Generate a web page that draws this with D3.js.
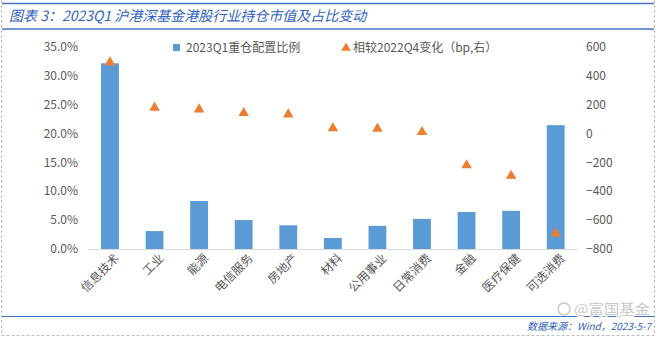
<!DOCTYPE html>
<html><head><meta charset="utf-8">
<script src="https://cdn.jsdelivr.net/npm/d3@7"></script>
<style>html,body{margin:0;padding:0;background:#fff;}svg{display:block;font-family:"Microsoft YaHei","Noto Sans CJK SC",sans-serif;}</style>
</head><body>
<svg id="c" width="670" height="344"></svg>
<script>
const categories = ["信息技术","工业","能源","电信服务","房地产","材料","公用事业","日常消费","金融","医疗保健","可选消费"];
const weights = [32.1, 3.1, 8.3, 5.0, 4.1, 1.9, 4.0, 5.2, 6.4, 6.6, 21.4];
const changes = [490, 177, 165, 140, 131, 35, 32, 9, -221, -294, -692];
const leftTicks = [0,5,10,15,20,25,30,35];
const rightTicks = [-800,-600,-400,-200,0,200,400,600];
const seriesNames = ["2023Q1重仓配置比例","相较2022Q4变化（bp,右）"];

const svg = d3.select("#c");
const font = "'Microsoft YaHei','Noto Sans CJK SC',sans-serif";
const blue = "#2f63c0";

// frame
svg.append("line").attr("x1",1.5).attr("x2",1.5).attr("y1",0).attr("y2",335).attr("stroke","#bfbfbf").attr("stroke-dasharray","3,2");
svg.append("line").attr("x1",654.5).attr("x2",654.5).attr("y1",0).attr("y2",335).attr("stroke","#bfbfbf").attr("stroke-dasharray","3,2");
svg.append("line").attr("x1",1.5).attr("x2",654.5).attr("y1",335.5).attr("y2",335.5).attr("stroke","#bfbfbf").attr("stroke-dasharray","3,2");
svg.append("line").attr("x1",2).attr("x2",654).attr("y1",3.5).attr("y2",3.5).attr("stroke","#4472c4").attr("stroke-width",1.5);
svg.append("line").attr("x1",2).attr("x2",654).attr("y1",29).attr("y2",29).attr("stroke","#4472c4").attr("stroke-width",1.5);
svg.append("line").attr("x1",2).attr("x2",654).attr("y1",316.5).attr("y2",316.5).attr("stroke","#4472c4").attr("stroke-width",1.2);

svg.append("text").attr("x",9).attr("y",21).attr("font-size",14).attr("font-style","italic")
  .attr("fill",blue).attr("font-family",font).text("图表 3：2023Q1 沪港深基金港股行业持仓市值及占比变动");

const x = d3.scaleBand().domain(categories).range([87.7,578]).paddingInner(0.6).paddingOuter(0.3);
const yL = d3.scaleLinear().domain([0,35]).range([249,46.5]);
const yR = d3.scaleLinear().domain([-800,600]).range([249,46.5]);

// left axis
const axL = svg.append("g").attr("transform","translate(80,0)")
  .call(d3.axisLeft(yL).tickValues(leftTicks).tickSize(0).tickPadding(0).tickFormat(d=>d.toFixed(1)+"%"));
axL.select(".domain").remove();
axL.selectAll("text").attr("font-size",12).attr("fill","#595959").attr("font-family",font).attr("dx",-2);

const axR = svg.append("g").attr("transform","translate(584,0)")
  .call(d3.axisRight(yR).tickValues(rightTicks).tickSize(0).tickPadding(0).tickFormat(d3.format("d")));
axR.select(".domain").remove();
axR.selectAll("text").attr("font-size",12).attr("fill","#595959").attr("font-family",font).attr("dx",2);

// bars
svg.append("g").selectAll("rect").data(categories).join("rect")
  .attr("x",d=>x(d)).attr("width",x.bandwidth())
  .attr("y",(d,i)=>yL(weights[i])).attr("height",(d,i)=>yL(0)-yL(weights[i]))
  .attr("fill","#5b9bd5");

// baseline
svg.append("line").attr("x1",87.7).attr("x2",578).attr("y1",249.5).attr("y2",249.5).attr("stroke","#d9d9d9").attr("stroke-width",1);

// triangles
const tri = d3.symbol().type(d3.symbolTriangle).size(48);
svg.append("g").selectAll("path").data(categories).join("path")
  .attr("d",tri)
  .attr("transform",(d,i)=>`translate(${x(d)+x.bandwidth()/2},${yR(changes[i])})`)
  .attr("fill","#ed7d31");

// x labels
const axB = svg.append("g").attr("transform","translate(0,250)")
  .call(d3.axisBottom(x).tickSize(0).tickPadding(0));
axB.select(".domain").remove();
axB.selectAll("text").attr("font-size",12).attr("fill","#595959").attr("font-family",font)
  .attr("text-anchor","end").attr("dy",0)
  .attr("transform","translate(10,9) rotate(-45)");

// legend
const lg = svg.append("g").attr("font-family",font).attr("font-size",12).attr("fill","#595959");
lg.append("rect").attr("x",173).attr("y",44).attr("width",7).attr("height",7).attr("fill","#5b9bd5");
lg.append("text").attr("x",186).attr("y",52).text(seriesNames[0]);
lg.append("path").attr("d",d3.symbol().type(d3.symbolTriangle).size(40)).attr("transform","translate(346,48)").attr("fill","#ed7d31");
lg.append("text").attr("x",353).attr("y",52).text(seriesNames[1]);

// source & watermark
svg.append("text").attr("x",651).attr("y",330).attr("font-size",10).attr("font-style","italic")
  .attr("text-anchor","end")
  .attr("fill",blue).attr("font-family",font)
  .text("数据来源：Wind，2023-5-7");
const wm = svg.append("g");
wm.append("circle").attr("cx",564).attr("cy",309).attr("r",6).attr("fill","none").attr("stroke","#c8c8c8").attr("stroke-width",1.5);
wm.append("text").attr("x",574).attr("y",313.5).attr("font-size",13.5)
  .attr("fill","#c8c8c8").attr("stroke","#ffffff").attr("stroke-width",2).attr("paint-order","stroke")
  .attr("font-family",font).attr("textLength",76).attr("lengthAdjust","spacingAndGlyphs").text("@富国基金");
</script>
</body></html>
